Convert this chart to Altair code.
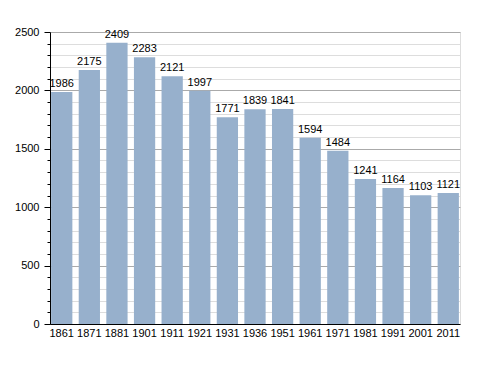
import altair as alt
import pandas as pd

years = ["1861", "1871", "1881", "1901", "1911", "1921", "1931", "1936",
         "1951", "1961", "1971", "1981", "1991", "2001", "2011"]
population = [1986, 2175, 2409, 2283, 2121, 1997, 1771, 1839,
              1841, 1594, 1484, 1241, 1164, 1103, 1121]
y_ticks = list(range(0, 2501, 100))

df = pd.DataFrame({"year": years, "pop": population})

FONT = "Liberation Sans"
FS = 11

x = alt.X("year:N", sort=years, title=None,
          scale=alt.Scale(paddingInner=0.23, paddingOuter=0.04),
          axis=alt.Axis(labelAngle=0, ticks=False, domainColor="black",
                        labelFontSize=FS, labelColor="black", labelFont=FONT,
                        labelPadding=3, labelOverlap=False))
y = alt.Y("pop:Q", title=None,
          scale=alt.Scale(domain=[0, 2500], nice=False),
          axis=alt.Axis(values=y_ticks,
                        labelExpr="datum.value % 500 === 0 ? datum.label : ''",
                        format="d", labelOverlap=False, labelFlush=False,
                        gridColor={"condition": {"test": "datum.value % 500 === 0", "value": "#aaaaaa"}, "value": "#dddddd"},
                        tickSize={"condition": {"test": "datum.value % 500 === 0", "value": 6}, "value": 3},
                        tickColor="black", domainColor="black",
                        labelFontSize=FS, labelColor="black", labelFont=FONT,
                        labelPadding=5))

bars = alt.Chart(df).mark_bar(color="#97b0cc").encode(x=x, y=y)
labels = alt.Chart(df).mark_text(dy=-8, fontSize=FS, font=FONT, color="black").encode(
    x=x, y=y, text="pop:Q")

chart = (bars + labels).properties(
    width=410, height=292,
    autosize=alt.AutoSizeParams(type="none"),
    padding={"left": 42, "top": 24, "right": 20, "bottom": 40},
).configure_view(strokeWidth=0).configure(background="white")

chart.save("out.html", embed_options={"renderer": "svg", "actions": False})
